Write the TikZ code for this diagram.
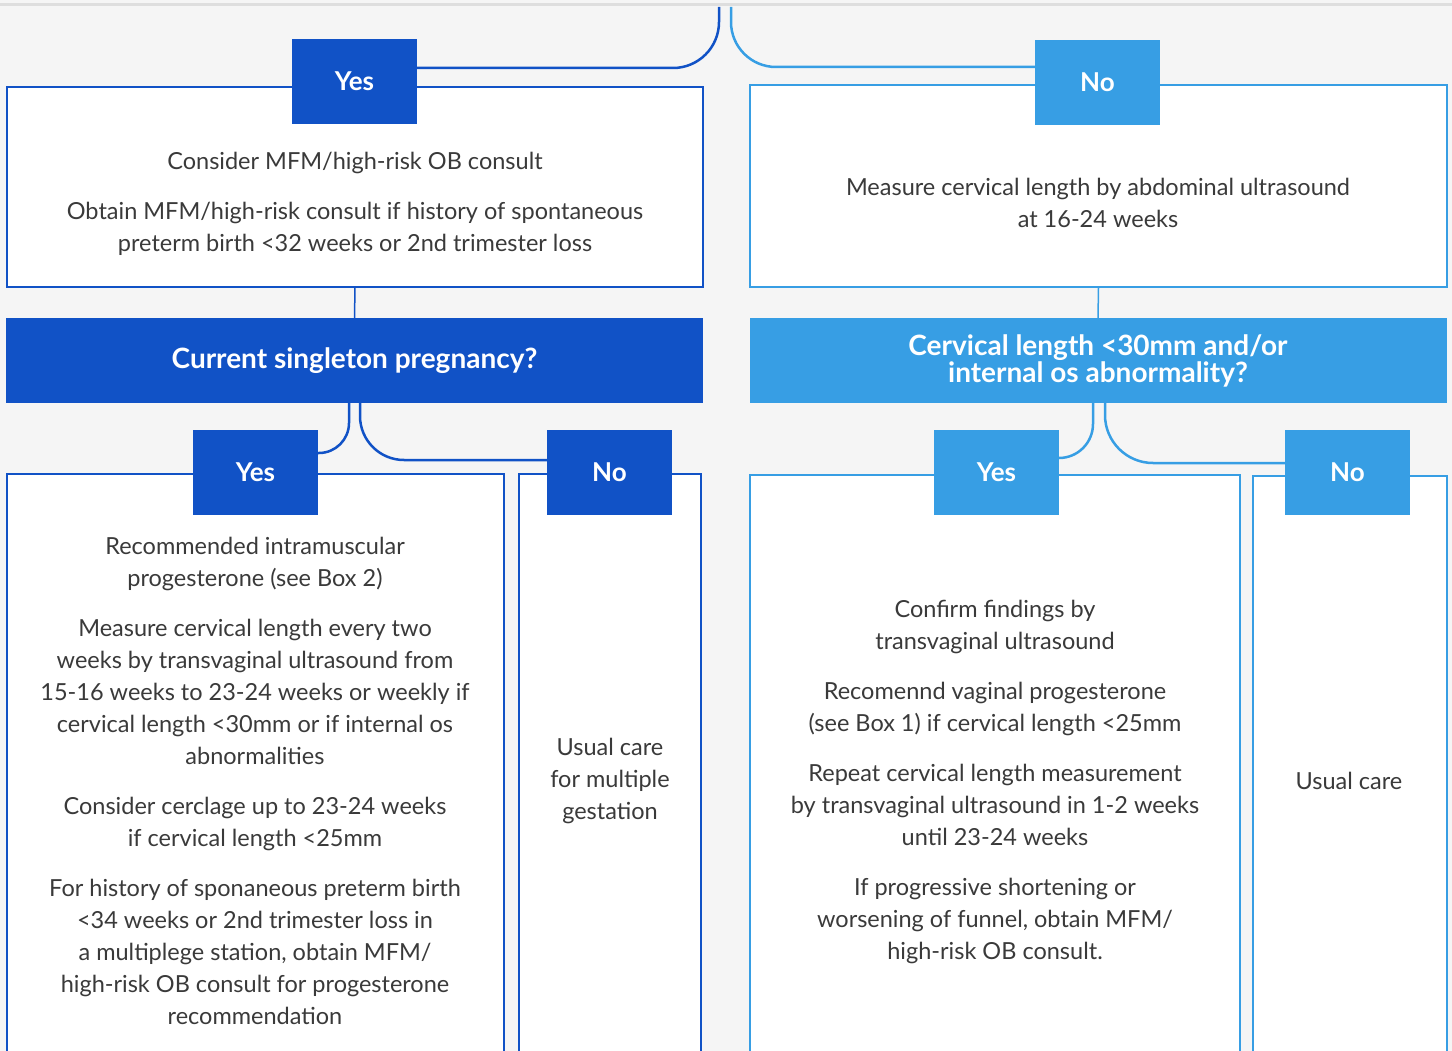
\documentclass[tikz,border=0pt]{standalone}
\usepackage{fontspec}
\setmainfont{Lato}
\usepackage{xcolor}
\usetikzlibrary{positioning}
\definecolor{darkblue}{HTML}{1152C6}
\definecolor{lightblue}{HTML}{379EE4}
\definecolor{bggray}{HTML}{F5F5F5}
\definecolor{linegray}{HTML}{DEDEDE}
\definecolor{textgray}{HTML}{3A3A3A}

\begin{document}
\begin{tikzpicture}[x=1pt, y=-1pt,
  tagbox/.style={minimum width=125pt, minimum height=85pt, inner sep=0pt, text=white,
    font=\fontsize{26}{30}\selectfont\bfseries},
  headbox/.style={minimum width=697pt, minimum height=85pt, inner sep=0pt, text=white,
    align=center, font=\fontsize{28}{27}\selectfont\bfseries},
  panel/.style={draw=#1, fill=white, line width=1.5pt, inner sep=0pt},
  body/.style={text=textgray, align=center, font=\fontsize{23.5}{32}\selectfont},
  link/.style={line width=2.5pt, rounded corners=#1}]
 \useasboundingbox (0,0) rectangle (1452,1051);
 \clip (0,0) rectangle (1452,1051);
 \fill[bggray] (0,0) rectangle (1452,1051);
 \draw[linegray, line width=3pt] (0,5) -- (1452,5);
 \coordinate (rootL) at (719,7);
 \coordinate (rootR) at (731,7);

 % first row
 \node[panel=darkblue, minimum width=696pt, minimum height=200pt] (consult) at (355,187) {};
 \node[panel=lightblue, minimum width=697pt, minimum height=202pt] (measure) at (1098.5,186) {};
 \node[body] (consulttxt) at (355,204)
  {Consider MFM/high-risk OB consult\\[18pt]
   Obtain MFM/high-risk consult if history of spontaneous\\
   preterm birth <32 weeks or 2nd trimester loss};
 \node[body] (measuretxt) at (1098,203)
  {Measure cervical length by abdominal ultrasound\\ at 16-24 weeks};

 % questions
 \node[headbox, fill=darkblue] (singleton) at (354.5,360.5) {Current singleton pregnancy?};
 \node[headbox, fill=lightblue] (cervical) at (1098,360.5)
  {Cervical length <30mm and/or\\ internal os abnormality?};
 \draw[darkblue, line width=1.5pt] (consult.south) -- (singleton.north);
 \draw[lightblue, line width=1.5pt] (measure.south) -- (cervical.north);

 % bottom row
 \node[panel=darkblue, minimum width=497pt, minimum height=596pt] (prog) at (255.5,772) {};
 \node[panel=darkblue, minimum width=182pt, minimum height=596pt] (multiple) at (610,772) {};
 \node[panel=lightblue, minimum width=490pt, minimum height=596pt] (confirm) at (995,773) {};
 \node[panel=lightblue, minimum width=194pt, minimum height=596pt] (usual) at (1350,774) {};
 \node[body] (progtxt) at (255,781)
  {Recommended intramuscular\\ progesterone (see Box 2)\\[18pt]
   Measure cervical length every two\\ weeks by transvaginal ultrasound from\\
   15-16 weeks to 23-24 weeks or weekly if\\ cervical length <30mm or if internal os\\
   abnormalities\\[18pt]
   Consider cerclage up to 23-24 weeks\\ if cervical length <25mm\\[18pt]
   For history of sponaneous preterm birth\\ <34 weeks or 2nd trimester loss in\\
   a multiplege station, obtain MFM/\\ high-risk OB consult for progesterone\\
   recommendation};
 \node[body] (multtxt) at (610,781) {Usual care\\ for multiple\\ gestation};
 \node[body] (confirmtxt) at (995,782)
  {Confirm findings by\\ transvaginal ultrasound\\[18pt]
   Recomennd vaginal progesterone\\ (see Box 1) if cervical length <25mm\\[18pt]
   Repeat cervical length measurement\\ by transvaginal ultrasound in 1-2 weeks\\
   until 23-24 weeks\\[18pt]
   If progressive shortening or\\ worsening of funnel, obtain MFM/\\ high-risk OB consult.};
 \node[body] (usualtxt) at (1349,781) {Usual care};

 % yes / no tags
 \node[tagbox, fill=darkblue] (yes1) at (354.5,81.5) {Yes};
 \node[tagbox, fill=lightblue] (no1) at (1097.5,82.5) {No};
 \node[tagbox, fill=darkblue] (yes2) at (255.5,472) {Yes};
 \node[tagbox, fill=darkblue] (no2) at (609.5,472) {No};
 \node[tagbox, fill=lightblue] (yes3) at (996.5,472.5) {Yes};
 \node[tagbox, fill=lightblue] (no3) at (1347.5,472.5) {No};

 % connectors
 \draw[link=46pt, darkblue] (rootL) |- ([yshift=13.5pt]yes1.east);
 \draw[link=45pt, lightblue] (rootR) |- ([yshift=15.5pt]no1.west);
 \draw[link=30pt, darkblue] ([xshift=-5.5pt]singleton.south) |- ([yshift=19pt]yes2.east);
 \draw[link=44pt, darkblue] ([xshift=5.5pt]singleton.south) |- ([yshift=12pt]no2.west);
 \draw[link=34pt, lightblue] ([xshift=-5pt]cervical.south) |- ([yshift=14.5pt]yes3.east);
 \draw[link=48pt, lightblue] ([xshift=7pt]cervical.south) |- ([yshift=9.5pt]no3.west);
\end{tikzpicture}
\end{document}
